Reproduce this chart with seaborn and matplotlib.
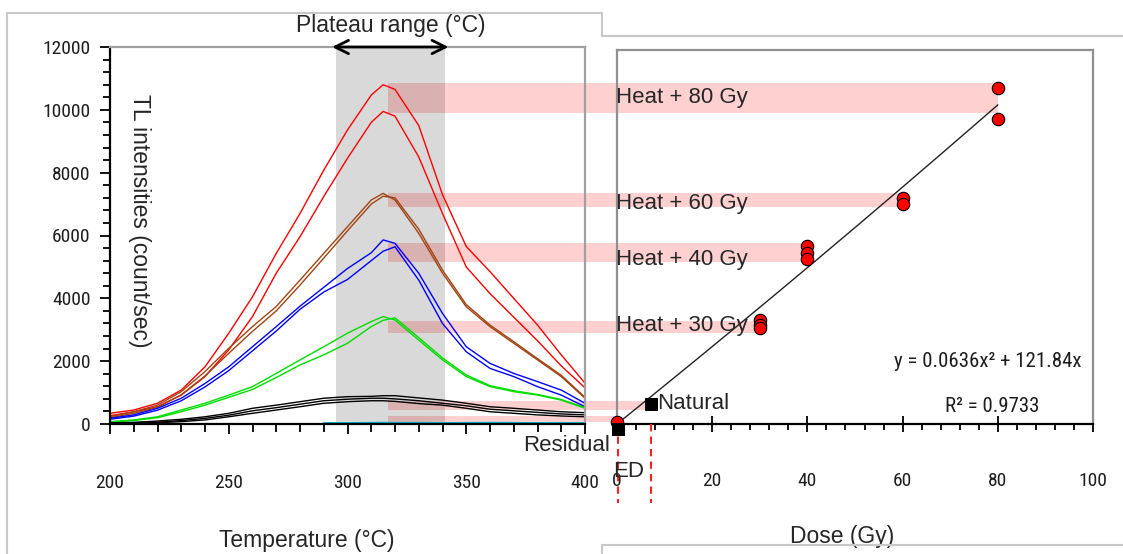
import matplotlib
matplotlib.use("Agg")
import matplotlib.pyplot as plt
from matplotlib.lines import Line2D
from matplotlib.patches import Rectangle
from matplotlib.ticker import MultipleLocator
from matplotlib import font_manager
import numpy as np
import pandas as pd
import seaborn as sns

# ---- glow curves (left panel) ----
temperature = [200, 210, 220, 230, 240, 250, 260, 270, 280, 290, 300,
               310, 315, 320, 330, 340, 350, 360, 370, 380, 390, 400]
red_a = [340, 445, 660, 1080, 1820, 2890, 4050, 5430, 6700, 8080, 9360,
         10470, 10800, 10650, 9500, 7300, 5650, 4850, 4000, 3150, 2200, 1300]
red_b = [265, 390, 550, 920, 1510, 2360, 3420, 4800, 5960, 7240, 8460,
         9600, 9950, 9800, 8500, 6700, 5000, 4150, 3400, 2650, 1850, 1150]
brown_a = [230, 390, 600, 1030, 1670, 2410, 3100, 3740, 4580, 5430, 6280,
           7130, 7340, 7130, 6070, 4800, 3730, 3100, 2570, 2040, 1510, 820]
brown_b = [200, 340, 530, 930, 1530, 2250, 2950, 3600, 4420, 5280, 6150,
           7000, 7250, 7200, 6200, 4900, 3800, 3150, 2620, 2080, 1550, 850]
blue_a = [180, 290, 500, 820, 1290, 1820, 2460, 3100, 3750, 4350, 4950,
          5450, 5860, 5750, 4800, 3520, 2460, 1930, 1610, 1350, 1080, 660]
blue_b = [150, 250, 440, 740, 1180, 1700, 2330, 2960, 3650, 4200, 4600,
          5200, 5500, 5640, 4580, 3200, 2300, 1770, 1510, 1190, 920, 550]
green_a = [75, 130, 230, 445, 660, 920, 1190, 1610, 2040, 2460, 2890,
           3260, 3420, 3310, 2670, 2040, 1510, 1190, 1030, 920, 760, 500]
green_b = [60, 110, 200, 390, 600, 850, 1100, 1480, 1880, 2200, 2570,
           3100, 3300, 3380, 2750, 2100, 1560, 1220, 1060, 940, 780, 520]
black_a = [40, 50, 95, 150, 230, 340, 500, 600, 710, 820, 870,
           880, 900, 900, 830, 760, 660, 550, 500, 445, 390, 360]
black_b = [30, 45, 60, 110, 180, 280, 420, 520, 630, 740, 790,
           820, 820, 800, 740, 660, 580, 470, 420, 370, 320, 290]
black_c = [20, 40, 40, 75, 130, 230, 340, 445, 550, 660, 710,
           740, 740, 720, 650, 600, 500, 390, 340, 290, 255, 230]
cyan_a = [np.nan] * 9 + [40, 40, 45, 50, 45, 45, 40, 45, 50, 45, 40, 40, 40]

plateau_range = (295, 341)

# ---- dose response (right panel) ----
added_dose = [80, 80, 60, 60, 40, 40, 40, 30, 30, 30]
added_tl = [10700, 9700, 7200, 7000, 5650, 5450, 5250, 3300, 3150, 3050]
natural_dose, natural_tl = 7.1, 640
residual_dose, residual_tl = 0.3, -150
residual_red_tl = 60
fit_a, fit_b = 0.0636, 121.84
fit_r2 = 0.9733

heat_labels = ["Heat + 80 Gy", "Heat + 60 Gy", "Heat + 40 Gy", "Heat + 30 Gy"]
heat_label_y = [10380, 7000, 5220, 3120]

# bands linking glow-curve peaks to dose points: (low, high, end dose)
band_low = [9900, 6900, 5160, 2900, 450, 65]
band_high = [10850, 7350, 5760, 3280, 730, 255]
band_end_dose = [80, 60, 40, 30, natural_dose, 0]
band_start_temp = 317

# ---- style ----
sns.set_style("ticks")
fm = font_manager.fontManager
names = {f.name for f in fm.ttflist}
main_font = "Liberation Sans" if "Liberation Sans" in names else "DejaVu Sans"
plt.rcParams["font.family"] = [main_font, "DejaVu Sans"]

# a condensed face for the tick numbers, if one is installed
tick_prop = {"family": main_font, "size": 12.5}
for pref in ["Liberation Sans Narrow", "Arial Narrow", "Roboto Condensed",
             "Open Sans Condensed", "Noto Sans Condensed"]:
    if pref in names:
        tick_prop = {"family": pref, "size": 14}
        break
else:
    cond = [f for f in fm.ttflist if f.name == "DejaVu Sans" and
            str(f.stretch) in ("condensed", "semi-condensed") and f.style == "normal"]
    if cond:
        tick_prop = {"family": "DejaVu Sans", "stretch": "condensed", "size": 13}

W, H = 1123, 554
TEMP_LIM = (200, 400)
DOSE_LIM = (0, 100)
AX1_POS = [110 / W, 1 - 424 / H, 475 / W, 377 / H]
AX2_POS = [617 / W, 1 - 424 / H, 476 / W, 374 / H]
TICK_COLOR = "#1e1e1e"


def dose_to_temp(d):
    fx = AX2_POS[0] + AX2_POS[2] * (d - DOSE_LIM[0]) / (DOSE_LIM[1] - DOSE_LIM[0])
    return TEMP_LIM[0] + (fx - AX1_POS[0]) / AX1_POS[2] * (TEMP_LIM[1] - TEMP_LIM[0])


def style_ticklabels(labels):
    for lab in labels:
        lab.set_fontfamily(tick_prop["family"])
        lab.set_fontsize(tick_prop["size"])
        if "stretch" in tick_prop:
            lab.set_fontstretch(tick_prop["stretch"])


fig = plt.figure(figsize=(W / 100, H / 100), dpi=100)
ax1 = fig.add_axes(AX1_POS)
ax2 = fig.add_axes(AX2_POS)
ax2.set_facecolor("none")

# long-form table of the glow curves
curves = {
    "red_a": red_a, "red_b": red_b, "brown_a": brown_a, "brown_b": brown_b,
    "blue_a": blue_a, "blue_b": blue_b, "green_a": green_a, "green_b": green_b,
    "black_a": black_a, "black_b": black_b, "black_c": black_c, "cyan_a": cyan_a,
}
df = pd.DataFrame({"Temperature": temperature, **curves})
long_df = df.melt(id_vars="Temperature", var_name="curve", value_name="TL").dropna()
family_color = {"red": "#ff0000", "brown": "#a04412", "blue": "#0000ff",
                "green": "#00dd00", "black": "#000000", "cyan": "#00b8c8"}
palette = {k: family_color[k.split("_")[0]] for k in curves}

# pink linking bands (drawn first, under the plateau shade)
for lo, hi, end in zip(band_low, band_high, band_end_dose):
    t_end = dose_to_temp(end)
    ax1.add_patch(Rectangle((band_start_temp, lo), t_end - band_start_temp, hi - lo,
                            facecolor="#ffd0d0", edgecolor="none", zorder=0.5,
                            clip_on=False))

ax1.axvspan(*plateau_range, color="black", alpha=0.15, lw=0, zorder=1)

sns.lineplot(data=long_df, x="Temperature", y="TL", hue="curve", palette=palette,
             estimator=None, lw=1, legend=False, ax=ax1, zorder=2)

ax1.annotate("", xy=(plateau_range[1] + 1.5, 12000), xytext=(plateau_range[0] - 1.5, 12000),
             arrowprops=dict(arrowstyle="<->", color="black", lw=2, mutation_scale=24,
                             shrinkA=0, shrinkB=0),
             annotation_clip=False, zorder=6)
ax1.text(np.mean(plateau_range), 12700, "Plateau range (°C)", ha="center", va="center",
         fontsize=16.5, clip_on=False)

ax1.set_xlim(*TEMP_LIM)
ax1.set_ylim(0, 12000)
ax1.xaxis.set_major_locator(MultipleLocator(50))
ax1.xaxis.set_minor_locator(MultipleLocator(10))
ax1.yaxis.set_major_locator(MultipleLocator(2000))
ax1.yaxis.set_minor_locator(MultipleLocator(400))
ax1.tick_params(which="both", direction="out", color="black", width=1.3,
                labelcolor=TICK_COLOR)
ax1.tick_params(axis="x", which="major", length=7, pad=29)
ax1.tick_params(axis="x", which="minor", length=5.5)
ax1.tick_params(axis="y", which="major", length=7, pad=7)
ax1.tick_params(axis="y", which="minor", length=5)
ax1.set_xlabel("")
ax1.set_ylabel("")
style_ticklabels(ax1.get_xticklabels() + ax1.get_yticklabels())
for side in ["top", "right"]:
    ax1.spines[side].set_color("#a0a0a0")
    ax1.spines[side].set_linewidth(1.6)
for side in ["left", "bottom"]:
    ax1.spines[side].set_color("black")
    ax1.spines[side].set_linewidth(1.6)

ax1.text(0.063, 0.54, "TL intensities (count/sec)", rotation=270, ha="center", va="center",
         fontsize=16.5, transform=ax1.transAxes)
ax1.text(0.415, -0.308, "Temperature (°C)", ha="center", va="center", fontsize=16.5,
         transform=ax1.transAxes)

# ---- right panel ----
fit_x = np.linspace(0, max(added_dose), 200)
fit_y = fit_a * fit_x ** 2 + fit_b * fit_x
sns.lineplot(x=fit_x, y=fit_y, color="#222222", lw=1, ax=ax2, zorder=3)

sns.scatterplot(x=added_dose + [0], y=added_tl + [residual_red_tl], marker="o", s=80,
                color="#ff0000", edgecolor="black", linewidth=0.8, ax=ax2, zorder=5,
                clip_on=False)
sns.scatterplot(x=[natural_dose, residual_dose], y=[natural_tl, residual_tl], marker="s",
                s=80, color="black", edgecolor="black", ax=ax2, zorder=6, clip_on=False)

for d in [residual_dose, natural_dose]:
    ax2.plot([d, d], [0, -2500], color="#ff2020", lw=1.5, ls=(0, (3.5, 2.5)),
             clip_on=False, zorder=4)

for lab, y in zip(heat_labels, heat_label_y):
    ax2.text(-0.3, y, lab, ha="left", va="center", fontsize=16, zorder=7)
ax2.text(natural_dose + 1.3, natural_tl, "Natural", ha="left", va="center", fontsize=16,
         zorder=7)
ax2.text(-1.5, -670, "Residual", ha="right", va="center", fontsize=16, clip_on=False)
ax2.text(-0.8, -1500, "ED", ha="left", va="center", fontsize=16, clip_on=False, zorder=7)
eq_font = dict(fontfamily=tick_prop["family"], color=TICK_COLOR)
if "stretch" in tick_prop:
    eq_font["fontstretch"] = tick_prop["stretch"]
ax2.text(77.9, 1973, f"y = {fit_a}x² + {fit_b}x", ha="center", va="center",
         fontsize=15, **eq_font)
ax2.text(78.8, 541, f"R² = {fit_r2}", ha="center", va="center", fontsize=15, **eq_font)

ax2.set_xlim(*DOSE_LIM)
ax2.set_ylim(0, 11900)
ax2.xaxis.set_major_locator(MultipleLocator(20))
ax2.xaxis.set_minor_locator(MultipleLocator(4))
ax2.tick_params(axis="x", which="major", direction="inout", length=11.5, width=1.3,
                pad=29, labelcolor=TICK_COLOR, color="black")
ax2.tick_params(axis="x", which="minor", direction="out", length=4.5, width=1.3,
                color="black")
ax2.tick_params(axis="y", which="both", left=False, labelleft=False)
ax2.set_xlabel("")
ax2.set_ylabel("")
style_ticklabels(ax2.get_xticklabels())
for side in ["left", "top", "right"]:
    ax2.spines[side].set_color("#909090")
    ax2.spines[side].set_linewidth(1.6)
    ax2.spines[side].set_visible(True)
ax2.spines["bottom"].set_color("black")
ax2.spines["bottom"].set_linewidth(1.6)
ax2.text(0.473, -0.30, "Dose (Gy)", ha="center", va="center", fontsize=16.5,
         transform=ax2.transAxes)

# light gray panel outlines around the two screenshots
frame_segments = [
    ((7, 13), (7, H)), ((7, 13), (602, 13)), ((602, 13), (602, 36)), ((602, 36), (W, 36)),
    ((602, 545), (W, 545)), ((602, 545), (602, H)),
]
for (x0, y0), (x1, y1) in frame_segments:
    fig.add_artist(Line2D([x0 / W, x1 / W], [1 - y0 / H, 1 - y1 / H],
                          color="#c8c8c8", lw=1.5))

fig.savefig("out.png", dpi=100)
